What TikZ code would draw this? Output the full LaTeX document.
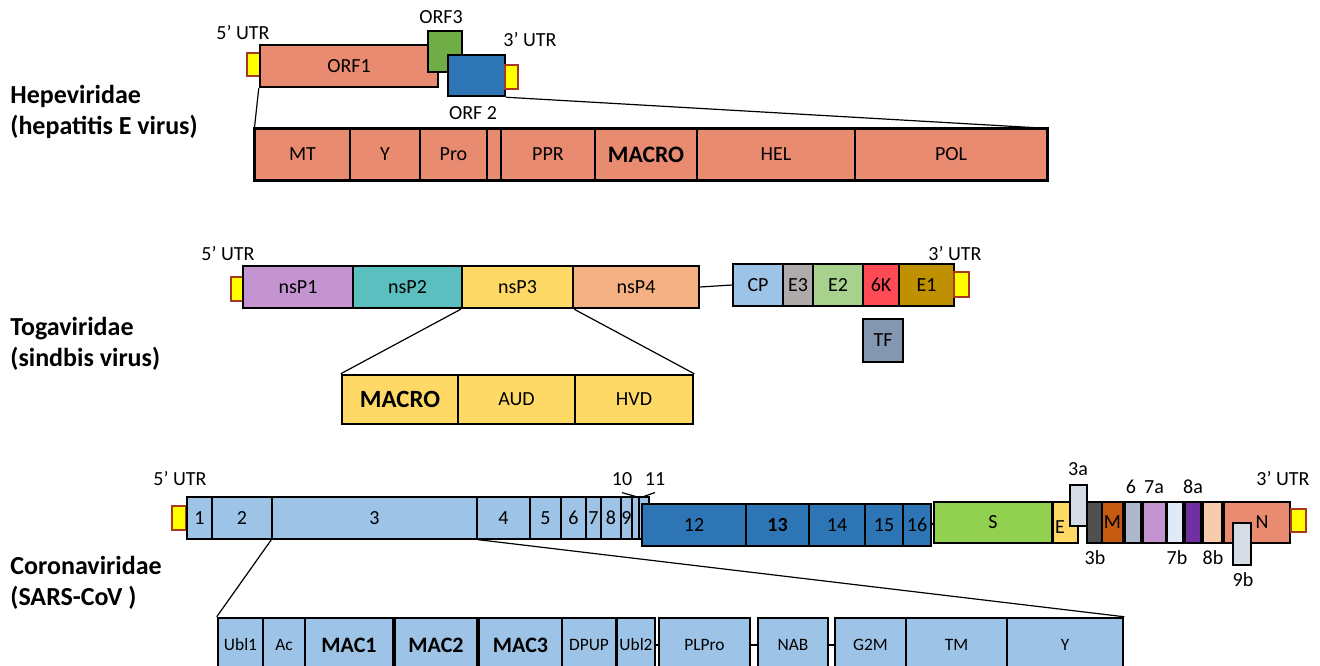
\documentclass[tikz,border=0pt]{standalone}
\usepackage{fontspec}
\setmainfont{Carlito}
\newlength\pxu
\setlength\pxu{0.5pt}
\definecolor{salmon}{RGB}{232,139,112}
\definecolor{orfgreen}{RGB}{112,173,71}
\definecolor{orfblue}{RGB}{46,117,182}
\definecolor{utrborder}{RGB}{168,56,32}
\definecolor{utryellow}{RGB}{255,255,0}
\definecolor{lilac}{RGB}{195,148,208}
\definecolor{teal}{RGB}{91,191,192}
\definecolor{gold}{RGB}{255,217,102}
\definecolor{peach}{RGB}{244,177,131}
\definecolor{skyblue}{RGB}{157,195,230}
\definecolor{greyE}{RGB}{175,171,171}
\definecolor{lightgreen}{RGB}{169,209,142}
\definecolor{redK}{RGB}{255,75,85}
\definecolor{ochre}{RGB}{191,144,0}
\definecolor{slate}{RGB}{132,151,176}
\definecolor{limegreen}{RGB}{146,208,80}
\definecolor{paleblue}{RGB}{214,220,229}
\definecolor{darkgrey}{RGB}{80,80,80}
\definecolor{rust}{RGB}{197,90,17}
\definecolor{bluegrey}{RGB}{173,185,202}
\definecolor{iceblue}{RGB}{222,235,247}
\definecolor{violet}{RGB}{112,48,160}
\definecolor{skin}{RGB}{248,203,173}
\tikzset{
	wh/.style 2 args={minimum width=#1\pxu,minimum height=#2\pxu},
	seg/.style={rectangle,draw,inner sep=0pt,line width=1.25pt},
	thinseg/.style={rectangle,draw,inner sep=0pt,line width=0.6pt},
	utr/.style={rectangle,draw=utrborder,fill=utryellow,inner sep=0pt,line width=1pt},
	family/.style={anchor=west,align=left,inner sep=0pt,font=\bfseries\fontsize{13}{15.5}\selectfont},
	small/.style={font=\fontsize{8.7}{10}\selectfont},
	big/.style={font=\bfseries\fontsize{11}{13}\selectfont},
	link/.style={line width=0.6pt},
}
\begin{document}
\begin{tikzpicture}[x=0.5pt,y=-0.5pt,font=\fontsize{10}{12}\selectfont]
	\useasboundingbox (0,0) rectangle (1320,665);
	\clip (0,0) rectangle (1320,665);

	\node at (10,  111.5) [family] (hep_name)  {Hepeviridae\\(hepatitis E virus)};
	\node at (10,  343.5) [family] (toga_name) {Togaviridae\\(sindbis virus)};
	\node at (10,  582.5) [family] (cov_name)  {Coronaviridae\\(SARS-CoV )};

	\node at (253.5, 64.5) [utr,wh={13}{23}]             (hep_utr5) {};
	\node at (349,   66)   [seg,fill=salmon,wh={178}{42}]   (orf1) {ORF1};
	\node at (445,   51.5) [seg,fill=orfgreen,wh={34}{41}]  (orf3) {};
	\node at (476.5, 75.5) [seg,fill=orfblue,wh={57}{41}]   (orf2) {};
	\node at (511.5, 77)   [utr,wh={13}{24}]             (hep_utr3) {};
	\node at (243,   33)   {5’ UTR};
	\node at (441,   17)   {ORF3};
	\node at (530,   40)   {3’ UTR};
	\node at (473,  113)   {ORF 2};

	\node at (302.5, 154.5) [thinseg,fill=salmon,wh={95}{51}]  (hep_mt)    {MT};
	\node at (385,   154.5) [thinseg,fill=salmon,wh={70}{51}]  (hep_y)     {Y};
	\node at (453.5, 154.5) [thinseg,fill=salmon,wh={67}{51}]  (hep_pro)   {Pro};
	\node at (494,   154.5) [thinseg,fill=salmon,wh={14}{51}]  (hep_gap)   {};
	\node at (548,   154.5) [thinseg,fill=salmon,wh={94}{51}]  (hep_ppr)   {PPR};
	\node at (646,   154.5) [thinseg,fill=salmon,wh={102}{51},font=\bfseries\fontsize{11.8}{14}\selectfont] (hep_macro) {MACRO};
	\node at (776,   154.5) [thinseg,fill=salmon,wh={158}{51}] (hep_hel)   {HEL};
	\node at (951,   154.5) [thinseg,fill=salmon,wh={192}{51}] (hep_pol)   {POL};
	\draw[line width=1.5pt] (hep_mt.north west) rectangle (hep_pol.south east);
	\draw[link] (orf1.south west) -- (hep_mt.north west);
	\draw[link] (orf2.south east) -- (hep_pol.north east);

	\node at (237,   289)   [utr,wh={12}{24}]              (toga_utr5) {};
	\node at (298,   287)   [seg,fill=lilac,wh={110}{42}]  (nsp1) {nsP1};
	\node at (407.5, 287)   [seg,fill=teal,wh={109}{42}]   (nsp2) {nsP2};
	\node at (517.5, 287)   [seg,fill=gold,wh={111}{42}]   (nsp3) {nsP3};
	\node at (636,   287)   [seg,fill=peach,wh={126}{42}]  (nsp4) {nsP4};
	\node at (758,   285)   [seg,fill=skyblue,wh={50}{42}] (cp)   {CP};
	\node at (798,   285)   [seg,fill=greyE,wh={30}{42}]   (e3)   {E3};
	\node at (838,   285)   [seg,fill=lightgreen,wh={50}{42}] (e2) {E2};
	\node at (881,   285)   [seg,fill=redK,wh={36}{42}]    (k6)   {6K};
	\node at (926.5, 285)   [seg,fill=ochre,wh={55}{42}]   (e1)   {E1};
	\node at (961.5, 284.5) [utr,wh={15}{25}]              (toga_utr3) {};
	\node at (883,   340.5) [seg,fill=slate,wh={40}{43}]   (tf)   {TF};
	\node at (228,   254)   {5’ UTR};
	\node at (955,   254)   {3’ UTR};
	\draw[link] (nsp4.east) -- (cp.west);

	\node at (400,   399.5) [seg,fill=gold,wh={116}{49},font=\bfseries\fontsize{12.4}{14}\selectfont] (toga_macro) {MACRO};
	\node at (516.5, 399.5) [seg,fill=gold,wh={117}{49}]   (toga_aud) {AUD};
	\node at (634,   399.5) [seg,fill=gold,wh={118}{49}]   (toga_hvd) {HVD};
	\draw[link] (nsp3.south west) -- (toga_macro.north west);
	\draw[link] (nsp3.south east) -- (toga_hvd.north east);

	\node at (179,   518)   [utr,wh={14}{24}]                  (cov_utr5) {};
	\node at (199.5, 518)   [thinseg,fill=skyblue,wh={25}{42}]  (n1)  {1};
	\node at (242,   518)   [thinseg,fill=skyblue,wh={60}{42}]  (n2)  {2};
	\node at (374.5, 518)   [thinseg,fill=skyblue,wh={205}{42}] (n3)  {3};
	\node at (503.5, 518)   [thinseg,fill=skyblue,wh={53}{42}]  (n4)  {4};
	\node at (545.5, 518)   [thinseg,fill=skyblue,wh={31}{42}]  (n5)  {5};
	\node at (573.5, 518)   [thinseg,fill=skyblue,wh={25}{42}]  (n6)  {6};
	\node at (593.5, 518)   [thinseg,fill=skyblue,wh={15}{42}]  (n7)  {7};
	\node at (611,   518)   [thinseg,fill=skyblue,wh={20}{42}]  (n8)  {8};
	\node at (626.5, 518)   [thinseg,fill=skyblue,wh={11}{42}]  (n9)  {9};
	\node at (635.5, 518)   [thinseg,fill=skyblue,wh={7}{42}]   (n10) {};
	\node at (644,   518)   [thinseg,fill=skyblue,wh={10}{42}]  (n11) {};
	\node at (694,   525)   [thinseg,fill=orfblue,wh={104}{42}] (n12) {12};
	\node at (777.5, 525)   [thinseg,fill=orfblue,wh={63}{42},font=\bfseries\fontsize{10}{12}\selectfont] (n13) {13};
	\node at (837,   525)   [thinseg,fill=orfblue,wh={56}{42}]  (n14) {14};
	\node at (884,   525)   [thinseg,fill=orfblue,wh={38}{42}]  (n15) {15};
	\node at (917,   525)   [thinseg,fill=orfblue,wh={28}{42}]  (n16) {16};
	\node at (622,   479)   (lab10) {10};
	\node at (655,   479)   (lab11) {11};
	\draw[link] (lab10.south) -- (n10.north);
	\draw[link] (lab11.south) -- (n11.north);
	\node at (180,   479)   {5’ UTR};

	\node at (993,   522.5) [thinseg,fill=limegreen,wh={118}{41}] (sgene) {S};
	\node at (1065.5,522.5) [thinseg,fill=gold,wh={25}{41}]       (egene) {};
	\node at (1060,  527)   {E};
	\node at (1078.5,505.5) [thinseg,fill=paleblue,wh={17}{41}]   (o3a) {};
	\node at (1094.5,522.5) [thinseg,fill=darkgrey,wh={15}{41}]   (o3b) {};
	\node at (1112.5,522.5) [thinseg,fill=rust,wh={21}{41}]       (mgene) {M};
	\node at (1133,  522.5) [thinseg,fill=bluegrey,wh={16}{41}]   (o6) {};
	\node at (1154.5,522.5) [thinseg,fill=lilac,wh={23}{41}]      (o7a) {};
	\node at (1175,  522.5) [thinseg,fill=iceblue,wh={16}{41}]    (o7b) {};
	\node at (1193,  522.5) [thinseg,fill=violet,wh={16}{41}]     (o8a) {};
	\node at (1212.5,522.5) [thinseg,fill=skin,wh={19}{41}]       (o8b) {};
	\node at (1257,  522.5) [thinseg,fill=salmon,wh={66}{41}]     (ngene) {};
	\node at (1262,  522)   {N};
	\node at (1242,  544)   [thinseg,fill=paleblue,wh={18}{42}]   (o9b) {};
	\node at (1298.5,520.5) [utr,wh={15}{23}]                     (cov_utr3) {};
	\draw[link] (n16.east) -- (sgene.west);
	\draw[link] (mgene.east) -- (o6.west);
	\draw[link] (o6.east) -- (o7a.west);
	\draw[link] (o7a.east) -- (o7b.west);
	\draw[link] (o7b.east) -- (o8a.west);
	\draw[link] (o8a.east) -- (o8b.west);
	\draw[link] (o8b.east) -- (ngene.west);
	\node at (1078,  469)   {3a};
	\node at (1095,  558)   {3b};
	\node at (1131,  487)   {6};
	\node at (1154,  487)   {7a};
	\node at (1177,  558)   {7b};
	\node at (1193,  487)   {8a};
	\node at (1213,  558)   {8b};
	\node at (1243,  580)   {9b};
	\node at (1283,  479)   {3’ UTR};

	\node at (240.5, 645)   [seg,fill=skyblue,wh={45}{54},small]  (ubl1)  {Ubl1};
	\node at (284,   645)   [seg,fill=skyblue,wh={42}{54},small]  (ac)    {Ac};
	\node at (349,   645)   [seg,fill=skyblue,wh={88}{54},big]    (mac1)  {MAC1};
	\node at (436,   645)   [seg,fill=skyblue,wh={82}{54},big]    (mac2)  {MAC2};
	\node at (520.5, 645)   [seg,fill=skyblue,wh={83}{54},big]    (mac3)  {MAC3};
	\node at (589,   645)   [seg,fill=skyblue,wh={54}{54},small]  (dpup)  {DPUP};
	\node at (636,   645)   [seg,fill=skyblue,wh={38}{54},small]  (ubl2)  {Ubl2};
	\node at (704.5, 645)   [seg,fill=skyblue,wh={91}{54},small]  (plpro) {PLPro};
	\node at (793,   645)   [seg,fill=skyblue,wh={70}{54},small]  (nab)   {NAB};
	\node at (870.5, 645)   [seg,fill=skyblue,wh={71}{54},small]  (g2m)   {G2M};
	\node at (956.5, 645)   [seg,fill=skyblue,wh={101}{54},small] (tm)    {TM};
	\node at (1065,  645)   [seg,fill=skyblue,wh={116}{54},small] (ydom)  {Y};
	\draw[link] (mac1.east) -- (mac2.west);
	\draw[link] (ubl2.east) -- (plpro.west);
	\draw[link] (plpro.east) -- (nab.west);
	\draw[link] (nab.east) -- (g2m.west);
	\draw[link] (n3.south west) -- (ubl1.north west);
	\draw[link] (n3.south east) -- (ydom.north east);
\end{tikzpicture}
\end{document}
